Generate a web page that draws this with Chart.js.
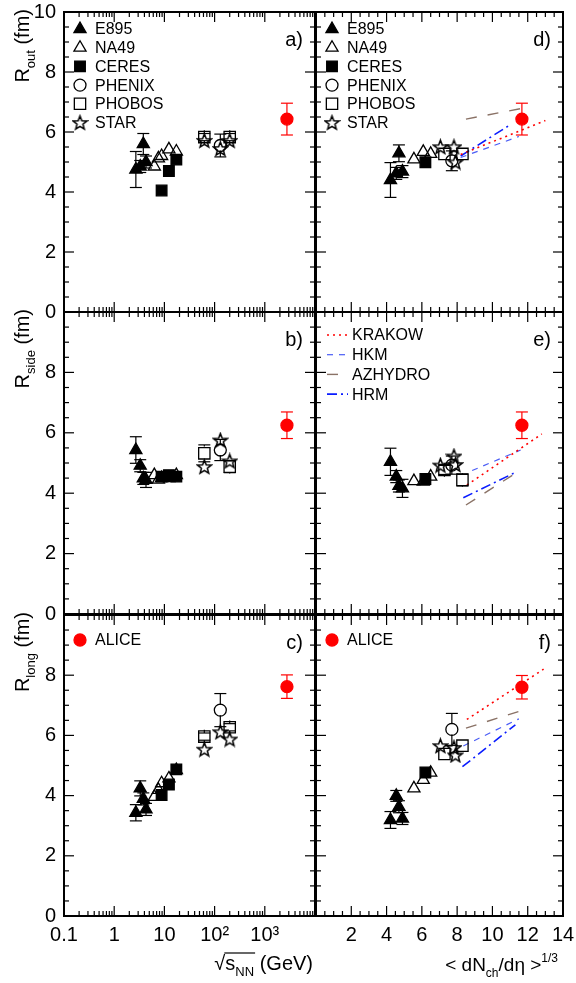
<!DOCTYPE html>
<html>
<head>
<meta charset="utf-8">
<title>HBT radii vs energy and multiplicity</title>
<script src="https://cdn.jsdelivr.net/npm/chart.js"></script>
<style>
    body { margin: 0; background: #fff; }
    #wrap { position: relative; width: 576px; height: 983px; }
    #wrap canvas { position: absolute; left: 0; top: 0; }
</style>
</head>
<body>
<div id="wrap">
    <canvas id="pa" width="576" height="983"></canvas>
    <canvas id="pb" width="576" height="983"></canvas>
    <canvas id="pc" width="576" height="983"></canvas>
    <canvas id="pd" width="576" height="983"></canvas>
    <canvas id="pe" width="576" height="983"></canvas>
    <canvas id="pf" width="576" height="983"></canvas>
</div>

<script>
    // x positions: sqrt(s_NN) in GeV (left column)
    const E895_SQRTS = [2.7, 3.3, 3.8, 4.3];
    const NA49_SQRTS = [6.3, 7.6, 8.8, 12.3, 17.3];
    const CERES_SQRTS = [8.8, 12.3, 17.3];
    const PHENIX_SQRTS = [130];
    const PHOBOS_SQRTS = [62.4, 200];
    const STAR_SQRTS = [62.4, 130, 200];
    const ALICE_SQRTS = [2760];

    // x positions: <dNch/deta>^(1/3) (right column)
    const E895_DN = [4.22, 4.55, 4.7, 4.9];
    const NA49_DN = [5.55, 6.08, 6.5];
    const CERES_DN = [6.2];
    const PHENIX_DN = [7.7];
    const PHOBOS_DN = [7.28, 8.3];
    const STAR_DN = [7.05, 7.82, 7.9];
    const ALICE_DN = [11.67];

    // a) R_out vs sqrt(s)
    const E895_ROUT = [4.75, 4.85, 5.6, 5.0], E895_ROUT_ERR = [0.6, 0.2, 0.35, 0.2];
    const NA49_ROUT = [4.85, 5.12, 5.2, 5.42, 5.35];
    const CERES_ROUT = [4.05, 4.7, 5.08];
    const PHENIX_ROUT = [5.55], PHENIX_ROUT_ERR = [0.38];
    const PHOBOS_ROUT = [5.83, 5.83], PHOBOS_ROUT_ERR = [0.12, 0.12];
    const STAR_ROUT = [5.72, 5.45, 5.72];
    const ALICE_ROUT = [6.43], ALICE_ROUT_ERR = [0.53];

    // b) R_side vs sqrt(s)
    const E895_RSIDE = [5.43, 4.91, 4.49, 4.44], E895_RSIDE_ERR = [0.44, 0.2, 0.2, 0.25];
    const NA49_RSIDE = [4.6, 4.45, 4.5, 4.5, 4.6];
    const CERES_RSIDE = [4.55, 4.6, 4.55];
    const PHENIX_RSIDE = [5.43], PHENIX_RSIDE_ERR = [0.35];
    const PHOBOS_RSIDE = [5.32, 4.88], PHOBOS_RSIDE_ERR = [0.28, 0.2];
    const STAR_RSIDE = [4.88, 5.76, 5.07];
    const ALICE_RSIDE = [6.25], ALICE_RSIDE_ERR = [0.44];

    // c) R_long vs sqrt(s)
    const E895_RLONG = [3.43, 4.24, 3.89, 3.54], E895_RLONG_ERR = [0.27, 0.25, 0.2, 0.2];
    const NA49_RLONG = [3.96, 4.19, 4.41, 4.57, 4.85];
    const CERES_RLONG = [4.02, 4.37, 4.87];
    const PHENIX_RLONG = [6.84], PHENIX_RLONG_ERR = [0.55];
    const PHOBOS_RLONG = [5.96, 6.27], PHOBOS_RLONG_ERR = [0.12, 0.12];
    const STAR_RLONG = [5.54, 6.12, 5.88];
    const ALICE_RLONG = [7.62], ALICE_RLONG_ERR = [0.39];

    // d) R_out vs multiplicity
    const E895_ROUT_DN = [4.4, 4.62, 5.29, 4.68], E895_ROUT_DN_ERR = [0.58, 0.2, 0.28, 0.2];
    const NA49_ROUT_DN = [5.09, 5.34, 5.27];
    const CERES_ROUT_DN = [4.99];
    const PHENIX_ROUT_DN = [5.04], PHENIX_ROUT_DN_ERR = [0.33];
    const PHOBOS_ROUT_DN = [5.27, 5.27];
    const STAR_ROUT_DN = [5.51, 5.51, 5.0];
    const ALICE_ROUT_DN = [6.43], ALICE_ROUT_DN_ERR = [0.53];

    // e) R_side vs multiplicity
    const E895_RSIDE_DN = [5.04, 4.55, 4.24, 4.16], E895_RSIDE_DN_ERR = [0.45, 0.2, 0.2, 0.3];
    const NA49_RSIDE_DN = [4.4, 4.38, 4.55];
    const CERES_RSIDE_DN = [4.47];
    const PHENIX_RSIDE_DN = [4.93], PHENIX_RSIDE_DN_ERR = [0.3];
    const PHOBOS_RSIDE_DN = [4.77, 4.44], PHOBOS_RSIDE_DN_ERR = [0.15, 0.2];
    const STAR_RSIDE_DN = [4.93, 5.23, 4.95];
    const ALICE_RSIDE_DN = [6.25], ALICE_RSIDE_DN_ERR = [0.44];

    // f) R_long vs multiplicity
    const E895_RLONG_DN = [3.19, 3.99, 3.63, 3.24], E895_RLONG_DN_ERR = [0.28, 0.18, 0.2, 0.2];
    const NA49_RLONG_DN = [4.24, 4.52, 4.76];
    const CERES_RLONG_DN = [4.77];
    const PHENIX_RLONG_DN = [6.2], PHENIX_RLONG_DN_ERR = [0.53];
    const PHOBOS_RLONG_DN = [5.38, 5.66];
    const STAR_RLONG_DN = [5.66, 5.6, 5.35];
    const ALICE_RLONG_DN = [7.6], ALICE_RLONG_DN_ERR = [0.39];

    // model curves (end points)
    const KRAKOW_OUT_X = [8.2, 13.0], KRAKOW_OUT = [5.25, 6.38];
    const HKM_OUT_X = [8.2, 11.5], HKM_OUT = [5.15, 5.85];
    const AZHYDRO_OUT_X = [8.5, 12.15], AZHYDRO_OUT = [6.43, 6.84];
    const HRM_OUT_X = [8.2, 10.9], HRM_OUT = [5.2, 6.2];

    const KRAKOW_SIDE_X = [8.55, 12.8], KRAKOW_SIDE = [4.27, 5.96];
    const HKM_SIDE_X = [8.85, 11.6], HKM_SIDE = [4.75, 5.43];
    const AZHYDRO_SIDE_X = [8.5, 11.6], AZHYDRO_SIDE = [3.61, 4.77];
    const HRM_SIDE_X = [8.35, 11.2], HRM_SIDE = [3.85, 4.66];

    const KRAKOW_LONG_X = [8.55, 12.9], KRAKOW_LONG = [6.53, 8.2];
    const HKM_LONG_X = [8.35, 11.5], HKM_LONG = [5.65, 6.55];
    const AZHYDRO_LONG_X = [8.5, 12.05], AZHYDRO_LONG = [6.24, 6.9];
    const HRM_LONG_X = [8.3, 11.3], HRM_LONG = [4.96, 6.35];

    // axis ticks
    const LOG_TICKS = [0.1, 1, 10, 100, 1000];
    const LOG_LABELS = ['0.1', '1', '10', '10\u00b2', '10\u00b3'];
    const LIN_TICKS = [2, 4, 6, 8, 10, 12, 14];
    const Y_TICKS_TOP = [0, 2, 4, 6, 8, 10];
    const Y_TICKS = [0, 2, 4, 6, 8];

    const EXPERIMENTS = ['E895', 'NA49', 'CERES', 'PHENIX', 'PHOBOS', 'STAR'];
    const MODELS = ['KRAKOW', 'HKM', 'AZHYDRO', 'HRM'];

    const FONT = '"Liberation Sans", Arial, sans-serif';
    const W = 576, H = 983;

    function makeStar() {
        const c = document.createElement('canvas');
        c.width = 17; c.height = 17;
        const g = c.getContext('2d');
        g.beginPath();
        for (let i = 0; i < 10; i++) {
            const r = i % 2 ? 3.1 : 7.3;
            const a = -Math.PI / 2 + i * Math.PI / 5;
            g.lineTo(8.5 + r * Math.cos(a), 9.2 + r * Math.sin(a));
        }
        g.closePath();
        g.lineWidth = 1.5;
        g.strokeStyle = '#000';
        g.stroke();
        return c;
    }
    const STAR_IMG = makeStar();

    const STYLE = {
        E895: { pointStyle: 'triangle', radius: 7, fill: '#000', color: '#000' },
        NA49: { pointStyle: 'triangle', radius: 7, fill: 'rgba(0,0,0,0)', color: '#000' },
        CERES: { pointStyle: 'rect', radius: 7.5, fill: '#000', color: '#000' },
        PHENIX: { pointStyle: 'circle', radius: 6, fill: 'rgba(0,0,0,0)', color: '#000' },
        PHOBOS: { pointStyle: 'rect', radius: 8, fill: 'rgba(0,0,0,0)', color: '#000' },
        STAR: { pointStyle: STAR_IMG, radius: 7, fill: 'rgba(0,0,0,0)', color: '#000' },
        ALICE: { pointStyle: 'circle', radius: 6, fill: '#ff0000', color: '#ff0000' }
    };
    const MODEL_STYLE = {
        KRAKOW: { color: '#ff0000', dash: [2, 4], width: 1.6 },
        HKM: { color: '#4a5cf5', dash: [6, 6], width: 1.2 },
        AZHYDRO: { color: '#8a7266', dash: [11, 11], width: 1.4 },
        HRM: { color: '#0a1cff', dash: [10, 4, 2, 4], width: 1.6 }
    };

    function S(name, x, y, err) { return { name, x, y, err }; }
    function M(name, x, y) { return { name, x, y }; }

    const PANELS = {
        pa: { box: [64, 12, 315, 312], log: true, xlab: false, yticks: Y_TICKS_TOP, ytitle: 'out', tag: 'a)', legend: 'exp',
            sets: [S('E895', E895_SQRTS, E895_ROUT, E895_ROUT_ERR), S('NA49', NA49_SQRTS, NA49_ROUT), S('CERES', CERES_SQRTS, CERES_ROUT),
                S('PHENIX', PHENIX_SQRTS, PHENIX_ROUT, PHENIX_ROUT_ERR), S('PHOBOS', PHOBOS_SQRTS, PHOBOS_ROUT, PHOBOS_ROUT_ERR),
                S('STAR', STAR_SQRTS, STAR_ROUT), S('ALICE', ALICE_SQRTS, ALICE_ROUT, ALICE_ROUT_ERR)], models: [] },
        pb: { box: [64, 312, 315, 614], log: true, xlab: false, yticks: Y_TICKS, ytitle: 'side', tag: 'b)', legend: null,
            sets: [S('E895', E895_SQRTS, E895_RSIDE, E895_RSIDE_ERR), S('NA49', NA49_SQRTS, NA49_RSIDE), S('CERES', CERES_SQRTS, CERES_RSIDE),
                S('PHENIX', PHENIX_SQRTS, PHENIX_RSIDE, PHENIX_RSIDE_ERR), S('PHOBOS', PHOBOS_SQRTS, PHOBOS_RSIDE, PHOBOS_RSIDE_ERR),
                S('STAR', STAR_SQRTS, STAR_RSIDE), S('ALICE', ALICE_SQRTS, ALICE_RSIDE, ALICE_RSIDE_ERR)], models: [] },
        pc: { box: [64, 615, 315, 916], log: true, xlab: true, yticks: Y_TICKS, ytitle: 'long', tag: 'c)', legend: 'alice',
            sets: [S('E895', E895_SQRTS, E895_RLONG, E895_RLONG_ERR), S('NA49', NA49_SQRTS, NA49_RLONG), S('CERES', CERES_SQRTS, CERES_RLONG),
                S('PHENIX', PHENIX_SQRTS, PHENIX_RLONG, PHENIX_RLONG_ERR), S('PHOBOS', PHOBOS_SQRTS, PHOBOS_RLONG, PHOBOS_RLONG_ERR),
                S('STAR', STAR_SQRTS, STAR_RLONG), S('ALICE', ALICE_SQRTS, ALICE_RLONG, ALICE_RLONG_ERR)], models: [] },
        pd: { box: [316, 12, 563, 312], log: false, xlab: false, yticks: null, tag: 'd)', legend: 'exp',
            sets: [S('E895', E895_DN, E895_ROUT_DN, E895_ROUT_DN_ERR), S('NA49', NA49_DN, NA49_ROUT_DN), S('CERES', CERES_DN, CERES_ROUT_DN),
                S('PHENIX', PHENIX_DN, PHENIX_ROUT_DN, PHENIX_ROUT_DN_ERR), S('PHOBOS', PHOBOS_DN, PHOBOS_ROUT_DN),
                S('STAR', STAR_DN, STAR_ROUT_DN), S('ALICE', ALICE_DN, ALICE_ROUT_DN, ALICE_ROUT_DN_ERR)],
            models: [M('KRAKOW', KRAKOW_OUT_X, KRAKOW_OUT), M('HKM', HKM_OUT_X, HKM_OUT), M('AZHYDRO', AZHYDRO_OUT_X, AZHYDRO_OUT), M('HRM', HRM_OUT_X, HRM_OUT)] },
        pe: { box: [316, 312, 563, 614], log: false, xlab: false, yticks: null, tag: 'e)', legend: 'models',
            sets: [S('E895', E895_DN, E895_RSIDE_DN, E895_RSIDE_DN_ERR), S('NA49', NA49_DN, NA49_RSIDE_DN), S('CERES', CERES_DN, CERES_RSIDE_DN),
                S('PHENIX', PHENIX_DN, PHENIX_RSIDE_DN, PHENIX_RSIDE_DN_ERR), S('PHOBOS', PHOBOS_DN, PHOBOS_RSIDE_DN, PHOBOS_RSIDE_DN_ERR),
                S('STAR', STAR_DN, STAR_RSIDE_DN), S('ALICE', ALICE_DN, ALICE_RSIDE_DN, ALICE_RSIDE_DN_ERR)],
            models: [M('KRAKOW', KRAKOW_SIDE_X, KRAKOW_SIDE), M('HKM', HKM_SIDE_X, HKM_SIDE), M('AZHYDRO', AZHYDRO_SIDE_X, AZHYDRO_SIDE), M('HRM', HRM_SIDE_X, HRM_SIDE)] },
        pf: { box: [316, 615, 563, 916], log: false, xlab: true, yticks: null, tag: 'f)', legend: 'alice',
            sets: [S('E895', E895_DN, E895_RLONG_DN, E895_RLONG_DN_ERR), S('NA49', NA49_DN, NA49_RLONG_DN), S('CERES', CERES_DN, CERES_RLONG_DN),
                S('PHENIX', PHENIX_DN, PHENIX_RLONG_DN, PHENIX_RLONG_DN_ERR), S('PHOBOS', PHOBOS_DN, PHOBOS_RLONG_DN),
                S('STAR', STAR_DN, STAR_RLONG_DN), S('ALICE', ALICE_DN, ALICE_RLONG_DN, ALICE_RLONG_DN_ERR)],
            models: [M('KRAKOW', KRAKOW_LONG_X, KRAKOW_LONG), M('HKM', HKM_LONG_X, HKM_LONG), M('AZHYDRO', AZHYDRO_LONG_X, AZHYDRO_LONG), M('HRM', HRM_LONG_X, HRM_LONG)] }
    };

    function seg(ctx, x1, y1, x2, y2) {
        ctx.beginPath(); ctx.moveTo(x1, y1); ctx.lineTo(x2, y2); ctx.stroke();
    }

    // text with sub/superscripts: parts = [[text, 'n'|'sub'|'sup'], ...]
    function richWidth(ctx, parts, size) {
        let w = 0;
        parts.forEach(([t, k]) => {
            ctx.font = (k === 'n' ? size : Math.round(size * 0.65)) + 'px ' + FONT;
            w += ctx.measureText(t).width;
        });
        return w;
    }
    function drawRich(ctx, parts, x, y, size, align) {
        const w = richWidth(ctx, parts, size);
        let cx = align === 'right' ? x - w : x;
        const pos = [];
        ctx.textAlign = 'left';
        ctx.textBaseline = 'alphabetic';
        parts.forEach(([t, k]) => {
            const fs = k === 'n' ? size : Math.round(size * 0.65);
            ctx.font = fs + 'px ' + FONT;
            const dy = k === 'sub' ? size * 0.3 : (k === 'sup' ? -size * 0.45 : 0);
            ctx.fillText(t, cx, y + dy);
            const tw = ctx.measureText(t).width;
            pos.push([cx, cx + tw]);
            cx += tw;
        });
        return pos;
    }

    function drawMarker(ctx, name, x, y) {
        const st = STYLE[name];
        ctx.save();
        ctx.fillStyle = st.fill;
        ctx.strokeStyle = st.color;
        ctx.lineWidth = 1.3;
        Chart.helpers.drawPoint(ctx, { pointStyle: st.pointStyle, radius: st.radius, rotation: 0, borderWidth: 1.3 }, x, y);
        ctx.restore();
    }

    const decor = {
        id: 'decor',
        beforeDatasetsDraw(chart) {
            const ctx = chart.ctx, ys = chart.scales.y;
            ctx.save();
            ctx.lineWidth = 1.2;
            chart.data.datasets.forEach((ds, i) => {
                if (!ds.errs) return;
                const meta = chart.getDatasetMeta(i);
                ctx.strokeStyle = ds.pointBorderColor;
                meta.data.forEach((el, j) => {
                    const e = ds.errs[j];
                    if (!e) return;
                    const v = ds.data[j].y;
                    const y1 = ys.getPixelForValue(v + e), y2 = ys.getPixelForValue(v - e);
                    const gap = ds.pointBackgroundColor === 'rgba(0,0,0,0)' ? ds.pointRadius * 0.85 : 0;
                    seg(ctx, el.x, y1, el.x, el.y - gap);
                    seg(ctx, el.x, el.y + gap, el.x, y2);
                    seg(ctx, el.x - 6, y1, el.x + 6, y1);
                    seg(ctx, el.x - 6, y2, el.x + 6, y2);
                });
            });
            ctx.restore();
        },
        afterDraw(chart) {
            const p = PANELS[chart.canvas.id];
            const ctx = chart.ctx, a = chart.chartArea;
            const xs = chart.scales.x, ys = chart.scales.y;
            ctx.save();
            ctx.strokeStyle = '#000';
            ctx.fillStyle = '#000';

            // inward ticks on all four sides
            ctx.lineWidth = 1.2;
            for (let v = 0; v <= 10; v += 0.5) {
                const py = ys.getPixelForValue(v);
                const len = v % 2 === 0 ? 10 : 5;
                seg(ctx, a.left, py, a.left + len, py);
                seg(ctx, a.right, py, a.right - len, py);
            }
            const xt = [];
            if (p.log) {
                LOG_TICKS.forEach(d => { for (let m = 1; m <= 9; m++) xt.push([d * m, m === 1]); });
                xt.push([10000, true]);
            } else {
                for (let v = 0; v <= 14; v += 0.5) xt.push([v, v % 2 === 0]);
            }
            xt.forEach(([v, major]) => {
                const px = xs.getPixelForValue(v);
                const len = major ? 10 : 5;
                seg(ctx, px, a.bottom, px, a.bottom - len);
                seg(ctx, px, a.top, px, a.top + len);
            });

            // frame
            ctx.lineWidth = 2;
            ctx.strokeRect(a.left, a.top, a.right - a.left, a.bottom - a.top);

            // panel tag
            ctx.font = '20px ' + FONT;
            ctx.textAlign = 'right';
            ctx.textBaseline = 'alphabetic';
            ctx.fillText(p.tag, a.right - 12, a.top + 34);

            // y title
            if (p.ytitle) {
                ctx.save();
                ctx.translate(29, a.top - 3);
                ctx.rotate(-Math.PI / 2);
                drawRich(ctx, [['R', 'n'], [p.ytitle, 'sub'], [' (fm)', 'n']], 0, 0, 20, 'right');
                ctx.restore();
            }

            // x titles
            if (p.xlab && p.log) {
                const pos = drawRich(ctx, [['\u221a', 'n'], ['s', 'n'], ['NN', 'sub'], [' (GeV)', 'n']], a.right - 2, 970, 20, 'right');
                ctx.lineWidth = 1.2;
                seg(ctx, pos[0][1] - 1, 953, pos[2][1] + 1, 953);
            }
            if (p.xlab && !p.log) {
                drawRich(ctx, [['< dN', 'n'], ['ch', 'sub'], ['/d\u03b7 >', 'n'], ['1/3', 'sup']], a.right - 5, 971, 19, 'right');
            }

            // legends
            ctx.textAlign = 'left';
            ctx.textBaseline = 'middle';
            if (p.legend === 'exp') {
                EXPERIMENTS.forEach((n, i) => {
                    const y = a.top + 17 + i * 18.7;
                    drawMarker(ctx, n, a.left + 16, y);
                    ctx.fillStyle = '#000';
                    ctx.font = '16px ' + FONT;
                    ctx.fillText(n, a.left + 31, y + 1);
                });
            }
            if (p.legend === 'alice') {
                const y = a.top + 25;
                drawMarker(ctx, 'ALICE', a.left + 16, y);
                ctx.fillStyle = '#000';
                ctx.font = '16px ' + FONT;
                ctx.fillText('ALICE', a.left + 31, y + 1);
            }
            if (p.legend === 'models') {
                MODELS.forEach((n, i) => {
                    const y = a.top + 23 + i * 19.7;
                    const st = MODEL_STYLE[n];
                    ctx.save();
                    ctx.strokeStyle = st.color;
                    ctx.lineWidth = st.width;
                    ctx.setLineDash(st.dash);
                    seg(ctx, a.left + 11, y, a.left + 32, y);
                    ctx.restore();
                    ctx.fillStyle = '#000';
                    ctx.font = '16px ' + FONT;
                    ctx.fillText(n, a.left + 36, y + 1);
                });
            }
            ctx.restore();
        }
    };

    function pts(xs, ys) {
        return xs.map((x, i) => ({ x: x, y: ys[i] }));
    }

    function buildChart(id) {
        const p = PANELS[id];
        const [l, t, r, b] = p.box;
        const datasets = [];
        p.models.forEach(m => {
            const st = MODEL_STYLE[m.name];
            datasets.push({
                type: 'line', label: m.name, data: pts(m.x, m.y),
                borderColor: st.color, borderDash: st.dash, borderWidth: st.width,
                pointRadius: 0, fill: false, tension: 0, order: 2
            });
        });
        p.sets.forEach(s => {
            const st = STYLE[s.name];
            datasets.push({
                label: s.name, data: pts(s.x, s.y), errs: s.err || null,
                pointStyle: st.pointStyle, pointRadius: st.radius,
                pointBackgroundColor: st.fill, pointBorderColor: st.color,
                pointBorderWidth: 1.3, showLine: false, order: 1
            });
        });

        const tickFont = { family: FONT, size: 20 };
        const xScale = p.log
            ? { type: 'logarithmic', min: 0.1, max: 10000 }
            : { type: 'linear', min: 0, max: 14 };
        Object.assign(xScale, {
            grid: { display: false, drawTicks: false },
            border: { display: false },
            // axis box fills the space below the panel, so the plot area lands exactly on the box
            afterFit: s => { s.height = H - b; s.paddingLeft = 0; s.paddingRight = 0; },
            afterBuildTicks: s => { s.ticks = (p.log ? LOG_TICKS : LIN_TICKS).map(v => ({ value: v })); },
            ticks: {
                display: p.xlab, padding: 7, color: '#000', font: tickFont,
                maxRotation: 0, autoSkip: false,
                callback: v => {
                    if (!p.log) return String(v);
                    const k = LOG_TICKS.findIndex(tv => Math.abs(tv - v) < 1e-6 * tv);
                    return k >= 0 ? LOG_LABELS[k] : '';
                }
            }
        });

        const yScale = {
            type: 'linear', min: 0, max: 10,
            grid: { display: false, drawTicks: false },
            border: { display: false },
            afterFit: s => { s.width = l; s.paddingTop = 0; s.paddingBottom = 0; },
            afterBuildTicks: s => { s.ticks = (p.yticks || Y_TICKS).map(v => ({ value: v })); },
            ticks: { display: !!p.yticks, padding: 8, color: '#000', font: tickFont, autoSkip: false }
        };

        return new Chart(document.getElementById(id), {
            type: 'scatter',
            data: { datasets: datasets },
            options: {
                responsive: false,
                animation: false,
                events: [],
                layout: { padding: { left: 0, top: t, right: W - r, bottom: 0 } },
                plugins: { legend: { display: false }, tooltip: { enabled: false } },
                scales: { x: xScale, y: yScale }
            },
            plugins: [decor]
        });
    }

    Object.keys(PANELS).forEach(buildChart);
</script>
</body>
</html>
